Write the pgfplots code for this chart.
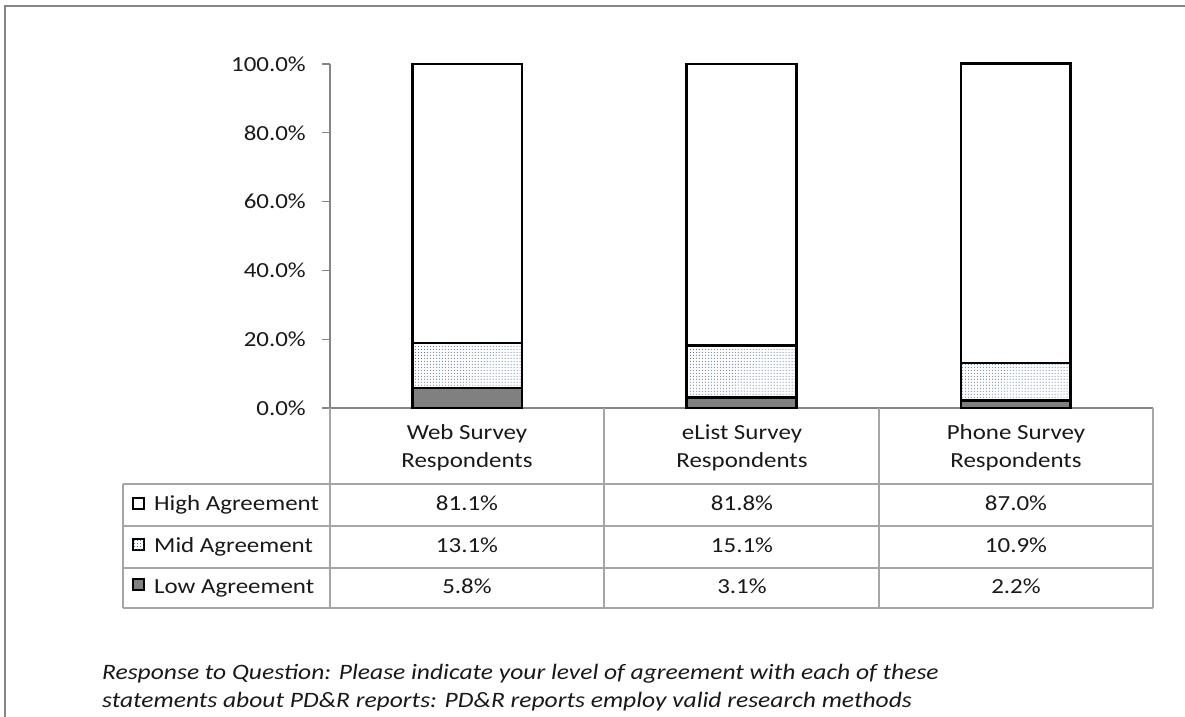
\documentclass[border=0pt]{standalone}
\usepackage{fontspec}
\setmainfont{Carlito}[FakeStretch=1.16]
\usepackage{pgfplots}
\pgfplotsset{compat=1.18}
\usetikzlibrary{patterns}

\definecolor{axisgray}{RGB}{134,134,134}
\definecolor{tablegray}{RGB}{165,165,165}
\definecolor{lowgray}{RGB}{128,128,128}
\definecolor{dotblue}{RGB}{55,90,150}
\definecolor{textdark}{RGB}{25,25,25}

\newcommand\tfont{\fontsize{21.5bp}{26bp}\selectfont}
\newcommand\cfont{\fontsize{22bp}{27bp}\selectfont\itshape}

\begin{document}
\begin{tikzpicture}[x=1bp,y=1bp]
\useasboundingbox (0,0) rectangle (1185,717);

% chart area frame, cut at the right and bottom
\draw[axisgray, line width=2.5bp] (5,711) -- (1185,711);
\draw[axisgray, line width=2.5bp] (5,712) -- (5,0);

\begin{axis}[
  at={(330bp,309bp)}, anchor=south west,
  scale only axis, width=823bp, height=344bp,
  xmin=-0.5, xmax=2.5, ymin=0, ymax=100,
  ybar stacked, bar width=0.4,
  axis x line*=bottom, axis y line*=left,
  axis line style={axisgray, line width=1.3bp},
  xtick=\empty,
  ytick={0,20,40,60,80,100},
  yticklabels={0.0\%,20.0\%,40.0\%,60.0\%,80.0\%,100.0\%},
  tick align=outside, major tick length=8bp,
  ytick style={axisgray, line width=1.3bp},
  yticklabel style={font=\tfont, text=textdark, inner sep=0pt, xshift=-16bp},
  clip=false,
]
% Low, Mid, High agreement
\addplot[draw=black, line width=2.6bp, fill=lowgray]
  coordinates {(0,5.8) (1,3.1) (2,2.2)};
\addplot[draw=black, line width=2.6bp, fill=white,
  postaction={pattern=dots, pattern color=dotblue}]
  coordinates {(0,13.1) (1,15.1) (2,10.9)};
\addplot[draw=black, line width=2.6bp, fill=white]
  coordinates {(0,81.1) (1,81.8) (2,87.0)};
\end{axis}

% data table under the bars
\begin{scope}[tablegray, line width=1.3bp]
  \foreach \y in {233,191,149,109} \draw (123,\y) -- (1153,\y);
  \draw (123,233) -- (123,109);
  \foreach \x in {330,604,879,1153} \draw (\x,309) -- (\x,109);
\end{scope}

\begin{scope}[text=textdark, font=\tfont]
  \node[anchor=base] at (467,277) {Web Survey};
  \node[anchor=base] at (467,249) {Respondents};
  \node[anchor=base] at (742,277) {eList Survey};
  \node[anchor=base] at (742,249) {Respondents};
  \node[anchor=base] at (1016,277) {Phone Survey};
  \node[anchor=base] at (1016,249) {Respondents};

  \node[anchor=base west, inner sep=0pt] at (154,206) {High Agreement};
  \node[anchor=base west, inner sep=0pt] at (154,164) {Mid Agreement};
  \node[anchor=base west, inner sep=0pt] at (154,123) {Low Agreement};

  \node[anchor=base] at (467,206) {81.1\%};
  \node[anchor=base] at (742,206) {81.8\%};
  \node[anchor=base] at (1016,206) {87.0\%};
  \node[anchor=base] at (467,164) {13.1\%};
  \node[anchor=base] at (742,164) {15.1\%};
  \node[anchor=base] at (1016,164) {10.9\%};
  \node[anchor=base] at (467,123) {5.8\%};
  \node[anchor=base] at (742,123) {3.1\%};
  \node[anchor=base] at (1016,123) {2.2\%};
\end{scope}

% legend keys
\draw[black, line width=2bp, fill=white] (132.5,207.5) rectangle (143.5,218.5);
\draw[black, line width=2bp, fill=white, postaction={pattern=dots, pattern color=dotblue}] (132.5,166.5) rectangle (143.5,177.5);
\draw[black, line width=2bp, fill=lowgray] (132.5,126.5) rectangle (143.5,137.5);

% question text
\node[anchor=base west, inner sep=0pt, text=textdark, font=\cfont] at (102,37)
  {Response to Question: Please indicate your level of agreement with each of these};
\node[anchor=base west, inner sep=0pt, text=textdark, font=\cfont] at (102,9)
  {statements about PD\&R reports: PD\&R reports employ valid research methods};
\end{tikzpicture}
\end{document}
